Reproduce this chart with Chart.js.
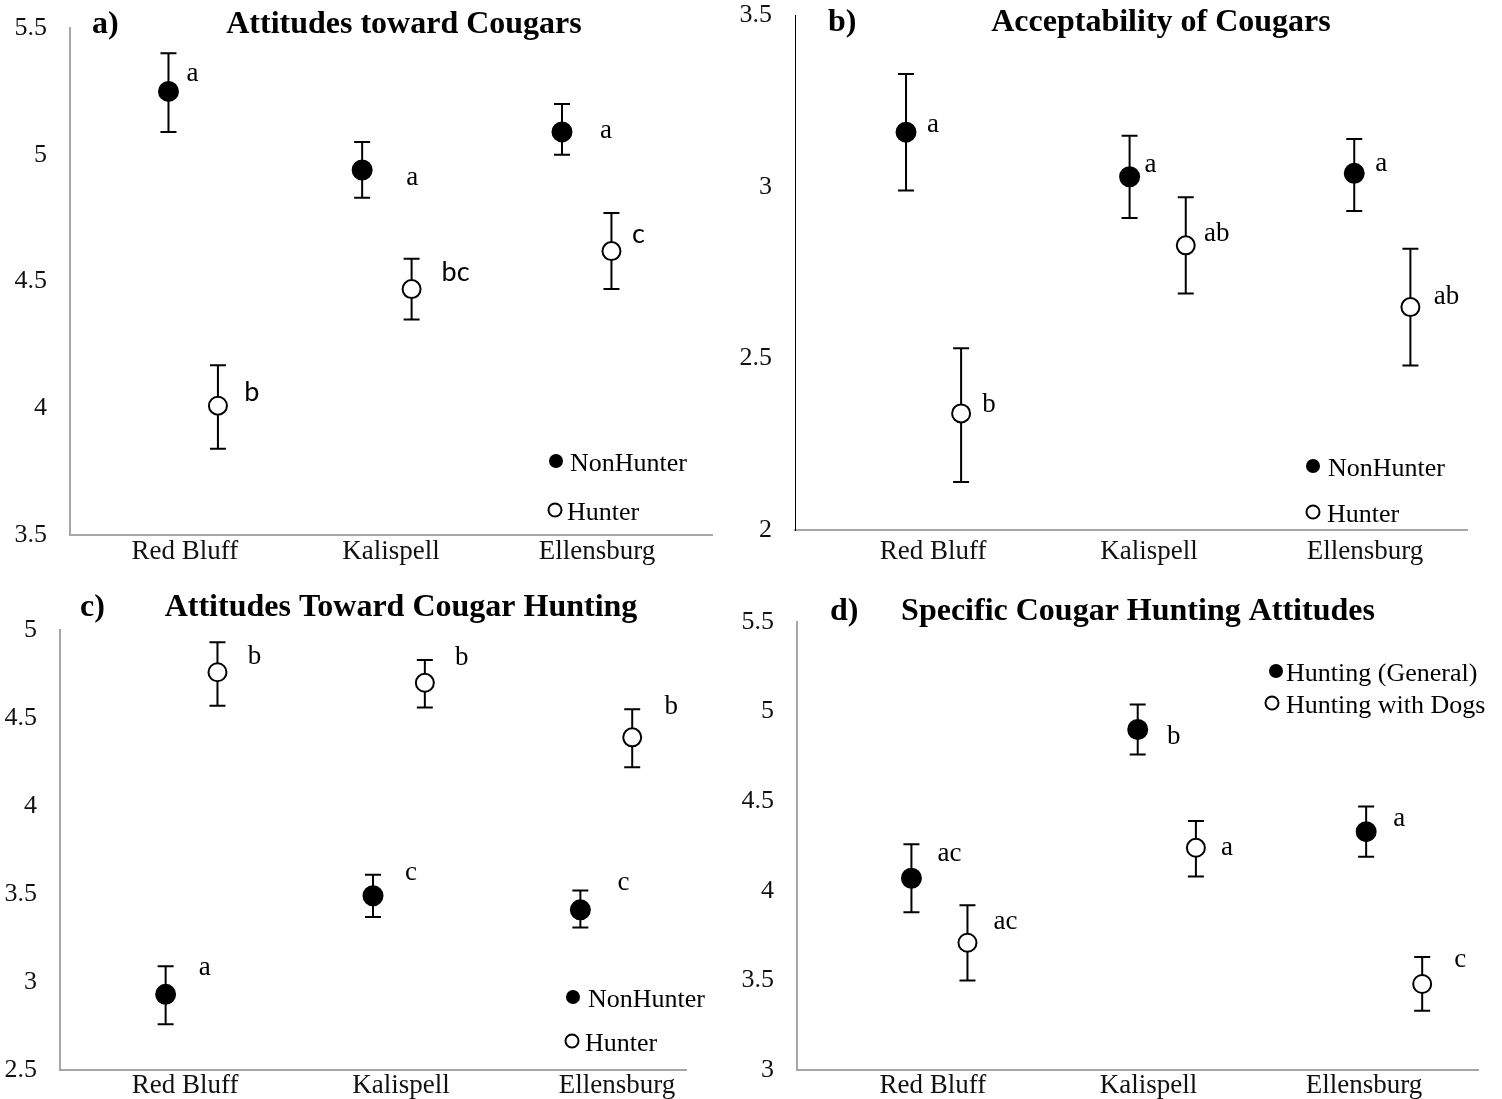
<!DOCTYPE html>
<html lang="en">
<head>
  <meta charset="UTF-8" />
  <title>Cougar attitudes by town</title>
  <script src="https://cdn.jsdelivr.net/npm/chart.js"></script>
  <style>
    body {
      margin: 0;
      background: #fff;
    }
    #page {
      position: relative;
      width: 1502px;
      height: 1099px;
      overflow: hidden;
    }
    .panel {
      position: absolute;
    }
  </style>
</head>
<body>

<div id="page">
  <div class="panel" id="boxA"><canvas id="chartA"></canvas></div>
  <div class="panel" id="boxB"><canvas id="chartB"></canvas></div>
  <div class="panel" id="boxC"><canvas id="chartC"></canvas></div>
  <div class="panel" id="boxD"><canvas id="chartD"></canvas></div>
</div>

<script>
  const categories = ["Red Bluff", "Kalispell", "Ellensburg"];

  // a) Attitudes toward Cougars  (x in category units, 1 = Red Bluff)
  const aNonX    = [0.92, 1.86, 2.83];
  const aNonMean = [5.25, 4.94, 5.09];
  const aNonLow  = [5.09, 4.83, 5.00];
  const aNonHigh = [5.40, 5.05, 5.20];
  const aNonSig  = ["a", "a", "a"];
  const aHunX    = [1.16, 2.10, 3.07];
  const aHunMean = [4.01, 4.47, 4.62];
  const aHunLow  = [3.84, 4.35, 4.47];
  const aHunHigh = [4.17, 4.59, 4.77];
  const aHunSig  = ["b", "bc", "c"];

  // b) Acceptability of Cougars
  const bNonX    = [0.875, 1.91, 2.95];
  const bNonMean = [3.16, 3.03, 3.04];
  const bNonLow  = [2.99, 2.91, 2.93];
  const bNonHigh = [3.33, 3.15, 3.14];
  const bNonSig  = ["a", "a", "a"];
  const bHunX    = [1.13, 2.17, 3.21];
  const bHunMean = [2.34, 2.83, 2.65];
  const bHunLow  = [2.14, 2.69, 2.48];
  const bHunHigh = [2.53, 2.97, 2.82];
  const bHunSig  = ["b", "ab", "ab"];

  // c) Attitudes Toward Cougar Hunting
  const cNonX    = [0.91, 1.87, 2.83];
  const cNonMean = [2.93, 3.49, 3.41];
  const cNonLow  = [2.76, 3.37, 3.31];
  const cNonHigh = [3.09, 3.61, 3.52];
  const cNonSig  = ["a", "c", "c"];
  const cHunX    = [1.15, 2.11, 3.07];
  const cHunMean = [4.76, 4.70, 4.39];
  const cHunLow  = [4.57, 4.56, 4.22];
  const cHunHigh = [4.93, 4.83, 4.55];
  const cHunSig  = ["b", "b", "b"];

  // d) Specific Cougar Hunting Attitudes
  const dGenX    = [0.90, 1.95, 3.01];
  const dGenMean = [4.07, 4.90, 4.33];
  const dGenLow  = [3.88, 4.76, 4.19];
  const dGenHigh = [4.26, 5.04, 4.47];
  const dGenSig  = ["ac", "b", "a"];
  const dDogX    = [1.16, 2.22, 3.27];
  const dDogMean = [3.71, 4.24, 3.48];
  const dDogLow  = [3.50, 4.08, 3.33];
  const dDogHigh = [3.92, 4.39, 3.63];
  const dDogSig  = ["ac", "a", "c"];

  const SERIF = "'Liberation Serif', 'Times New Roman', serif";
  const SANS = "Lato, 'Liberation Sans', sans-serif";

  // layout of each panel (page pixels), kept apart from the data
  const panels = [
    {
      canvas: "chartA", box: [0, 0, 751, 585], area: [70, 28, 712, 535], labelPad: 1,
      yMin: 3.5, yMax: 5.5, xMin: 0.442, xMax: 3.558,
      tag: "a)", title: "Attitudes toward Cougars", tagX: 92, titleX: 404, titleY: 25,
      yBorder: "#a6a6a6", yBorderWidth: 2,
      series: [
        { label: "NonHunter", x: aNonX, mean: aNonMean, low: aNonLow, high: aNonHigh, sig: aNonSig, filled: true,
          nudge: [[24, -17], [50, 8], [44, -1]], sigFont: SERIF },
        { label: "Hunter", x: aHunX, mean: aHunMean, low: aHunLow, high: aHunHigh, sig: aHunSig, filled: false,
          nudge: [[34, -13], [44, -17], [27, -17]], sigFont: SANS }
      ],
      legend: [[556, 461, 570], [555, 510, 567]]
    },
    {
      canvas: "chartB", box: [720, 0, 782, 585], area: [795, 15, 1467, 530], labelPad: 6,
      yMin: 2, yMax: 3.5, xMin: 0.361, xMax: 3.472,
      tag: "b)", title: "Acceptability of Cougars", tagX: 828, titleX: 1161, titleY: 23,
      yBorder: "#000", yBorderWidth: 1,
      series: [
        { label: "NonHunter", x: bNonX, mean: bNonMean, low: bNonLow, high: bNonHigh, sig: bNonSig, filled: true,
          nudge: [[27, -7], [21, -12], [27, -9]], sigFont: SERIF },
        { label: "Hunter", x: bHunX, mean: bHunMean, low: bHunLow, high: bHunHigh, sig: bHunSig, filled: false,
          nudge: [[28, -8], [31, -11], [36, -10]], sigFont: SERIF }
      ],
      legend: [[1313, 466, 1328], [1313, 512, 1327]]
    },
    {
      canvas: "chartC", box: [0, 560, 751, 539], area: [60, 630, 686, 1070], labelPad: 0,
      yMin: 2.5, yMax: 5, xMin: 0.421, xMax: 3.319,
      tag: "c)", title: "Attitudes Toward Cougar Hunting", tagX: 80, titleX: 401, titleY: 608,
      yBorder: "#a6a6a6", yBorderWidth: 2,
      series: [
        { label: "NonHunter", x: cNonX, mean: cNonMean, low: cNonLow, high: cNonHigh, sig: cNonSig, filled: true,
          nudge: [[39, -26], [38, -23], [43, -27]], sigFont: SERIF },
        { label: "Hunter", x: cHunX, mean: cHunMean, low: cHunLow, high: cHunHigh, sig: cHunSig, filled: false,
          nudge: [[37, -15], [37, -25], [39, -30]], sigFont: SERIF }
      ],
      legend: [[573, 997, 588], [572, 1041, 585]]
    },
    {
      canvas: "chartD", box: [720, 560, 782, 539], area: [797, 622, 1478, 1070], labelPad: 0,
      yMin: 3, yMax: 5.5, xMin: 0.369, xMax: 3.529,
      tag: "d)", title: "Specific Cougar Hunting Attitudes", tagX: 830, titleX: 1138, titleY: 612,
      yBorder: "#a6a6a6", yBorderWidth: 2,
      series: [
        { label: "Hunting (General)", x: dGenX, mean: dGenMean, low: dGenLow, high: dGenHigh, sig: dGenSig, filled: true,
          nudge: [[38, -24], [36, 7], [33, -13]], sigFont: SERIF },
        { label: "Hunting with Dogs", x: dDogX, mean: dDogMean, low: dDogLow, high: dDogHigh, sig: dDogSig, filled: false,
          nudge: [[38, -21], [31, 0], [38, -24]], sigFont: SERIF }
      ],
      legend: [[1276, 671, 1286], [1272, 703, 1286]]
    }
  ];

  // error bars + significance letters, drawn through the chart's scales
  const errorBars = {
    id: "errorBars",
    beforeDatasetsDraw(chart) {
      const ctx = chart.ctx;
      const xs = chart.scales.x, ys = chart.scales.y;
      ctx.save();
      ctx.strokeStyle = "#000";
      ctx.lineWidth = 2;
      chart.data.datasets.forEach(ds => {
        ds.data.forEach((p, i) => {
          const x = xs.getPixelForValue(p.x);
          const y1 = ys.getPixelForValue(ds.errLow[i]);
          const y2 = ys.getPixelForValue(ds.errHigh[i]);
          ctx.beginPath();
          ctx.moveTo(x, y1); ctx.lineTo(x, y2);
          ctx.moveTo(x - 8, y1); ctx.lineTo(x + 8, y1);
          ctx.moveTo(x - 8, y2); ctx.lineTo(x + 8, y2);
          ctx.stroke();
        });
      });
      ctx.restore();
    },
    afterDatasetsDraw(chart) {
      const ctx = chart.ctx;
      const xs = chart.scales.x, ys = chart.scales.y;
      ctx.save();
      ctx.fillStyle = "#000";
      ctx.textAlign = "center";
      ctx.textBaseline = "middle";
      chart.data.datasets.forEach(ds => {
        ctx.font = "27px " + ds.sigFont;
        ds.data.forEach((p, i) => {
          const x = xs.getPixelForValue(p.x);
          const y = ys.getPixelForValue(p.y);
          ctx.fillText(ds.sig[i], x + ds.nudge[i][0], y + ds.nudge[i][1]);
        });
      });
      ctx.restore();
    }
  };

  // panel tag, title and the little legend inside the plot
  const decorations = {
    id: "decorations",
    afterDraw(chart) {
      const cfg = chart.options.plugins.decorations;
      const ctx = chart.ctx;
      ctx.save();
      ctx.fillStyle = "#000";
      ctx.textBaseline = "middle";
      ctx.font = "bold 32px " + SERIF;
      ctx.textAlign = "left";
      ctx.fillText(cfg.tag, cfg.tagX, cfg.titleY);
      ctx.textAlign = "center";
      ctx.fillText(cfg.title, cfg.titleX, cfg.titleY);

      ctx.font = "26px " + SERIF;
      ctx.textAlign = "left";
      chart.data.datasets.forEach((ds, k) => {
        const [mx, my, tx] = cfg.legend[k];
        ctx.beginPath();
        if (ds.filledMark) {
          ctx.arc(mx, my, 7, 0, Math.PI * 2);
          ctx.fill();
        } else {
          ctx.arc(mx, my, 6.5, 0, Math.PI * 2);
          ctx.lineWidth = 2;
          ctx.strokeStyle = "#000";
          ctx.stroke();
        }
        ctx.fillText(ds.label, tx, my + 3);
      });
      ctx.restore();
    }
  };

  function build(p) {
    const [bl, bt, bw, bh] = p.box;
    const [al, at, ar, ab] = p.area;
    const holder = document.getElementById(p.canvas).parentNode;
    holder.style.left = bl + "px";
    holder.style.top = bt + "px";
    holder.style.width = bw + "px";
    holder.style.height = bh + "px";

    const datasets = p.series.map(s => ({
      label: s.label,
      data: s.mean.map((m, i) => ({ x: s.x[i], y: m })),
      errLow: s.low,
      errHigh: s.high,
      sig: s.sig,
      sigFont: s.sigFont,
      nudge: s.nudge,
      filledMark: s.filled,
      pointRadius: s.filled ? 9.5 : 9,
      pointHoverRadius: s.filled ? 9.5 : 9,
      pointBackgroundColor: s.filled ? "#000" : "#fff",
      pointBorderColor: "#000",
      pointBorderWidth: 2,
      showLine: false
    }));

    // page coordinates -> canvas coordinates for the hand-drawn bits
    new Chart(document.getElementById(p.canvas), {
      type: "scatter",
      data: { datasets: datasets },
      plugins: [errorBars, decorations],
      options: {
        responsive: true,
        maintainAspectRatio: false,
        animation: false,
        layout: {
          autoPadding: false,
          padding: { left: 0, top: at - bt, right: bl + bw - ar, bottom: 0 }
        },
        plugins: {
          legend: { display: false },
          tooltip: { enabled: false },
          decorations: {
            tag: p.tag, title: p.title,
            tagX: p.tagX - bl, titleX: p.titleX - bl, titleY: p.titleY - bt,
            legend: p.legend.map(([mx, my, tx]) => [mx - bl, my - bt, tx - bl])
          }
        },
        scales: {
          x: {
            type: "linear",
            min: p.xMin,
            max: p.xMax,
            afterFit: sc => { sc.height = bt + bh - ab; },
            afterBuildTicks: sc => { sc.ticks = categories.map((c, i) => ({ value: i + 1 })); },
            grid: { display: false, drawTicks: false },
            border: { color: "#a6a6a6", width: 2 },
            ticks: {
              padding: p.labelPad,
              color: "#111",
              font: { family: SERIF, size: 27 },
              maxRotation: 0,
              autoSkip: false,
              callback: v => categories[Math.round(v) - 1] || ""
            }
          },
          y: {
            min: p.yMin,
            max: p.yMax,
            afterFit: sc => { sc.width = al - bl; },
            grid: {
              display: true,
              drawOnChartArea: false,
              drawTicks: true,
              tickLength: 23,
              tickColor: "rgba(0,0,0,0)"
            },
            border: { color: p.yBorder, width: p.yBorderWidth },
            ticks: {
              stepSize: 0.5,
              padding: 0,
              color: "#111",
              font: { family: SERIF, size: 26 },
              callback: v => String(v)
            }
          }
        }
      }
    });
  }

  panels.forEach(build);
</script>

</body>
</html>
